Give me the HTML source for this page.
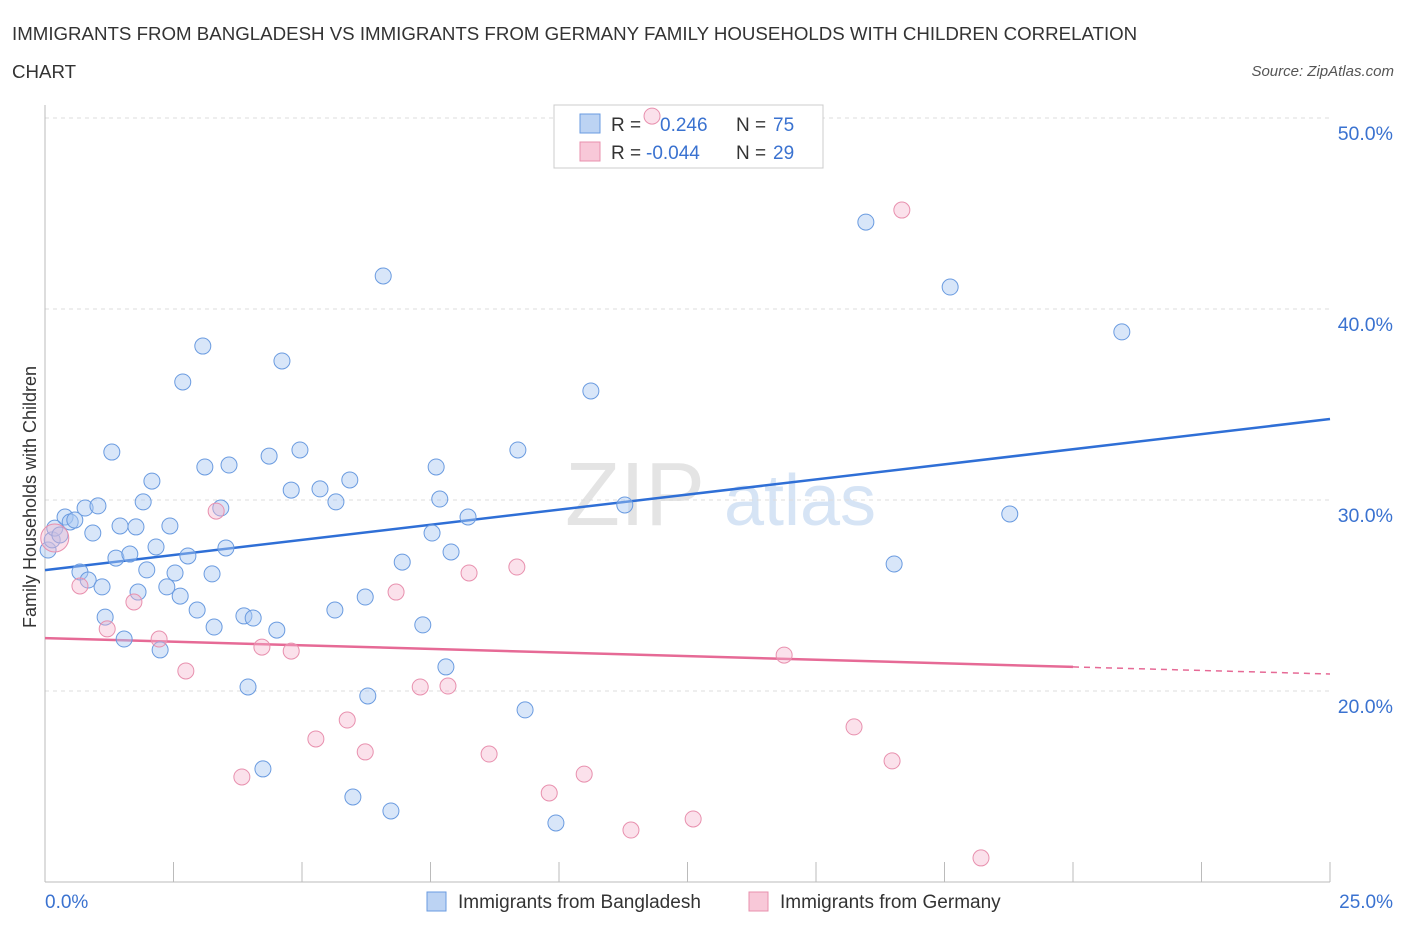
<!DOCTYPE html>
<html><head><meta charset="utf-8"><style>
body{margin:0;background:#fff;font-family:"Liberation Sans",sans-serif;}
svg text{font-family:"Liberation Sans",sans-serif;}
</style></head><body>
<svg id="chart" width="1406" height="930">
<text x="12" y="40" font-size="18.7" fill="#333">IMMIGRANTS FROM BANGLADESH VS IMMIGRANTS FROM GERMANY FAMILY HOUSEHOLDS WITH CHILDREN CORRELATION</text>
<text x="12" y="78" font-size="18.7" fill="#333">CHART</text>
<text x="1394" y="76" font-size="15" fill="#555" font-style="italic" text-anchor="end">Source: ZipAtlas.com</text>
<text x="36" y="497" font-size="18" fill="#333" text-anchor="middle" transform="rotate(-90 36 497)">Family Households with Children</text>
<text x="635" y="525" font-size="90" fill="#e4e4e4" text-anchor="middle" font-family="Liberation Serif">ZIP</text>
<text x="800" y="525" font-size="72" fill="#d6e4f5" text-anchor="middle">atlas</text>
<g id="grid"></g><g id="axes"></g>
<g>
<rect x="554" y="105" width="269" height="63" fill="#fff" stroke="#ccc"/>
<rect x="580" y="114" width="20" height="19" fill="#bcd3f3" stroke="#6a9be0"/>
<text x="611" y="131" font-size="19" fill="#333">R = </text><text x="660" y="131" font-size="19" fill="#3a72d0">0.246</text>
<text x="736" y="131" font-size="19" fill="#333">N = </text><text x="773" y="131" font-size="19" fill="#3a72d0">75</text>
<rect x="580" y="142" width="20" height="19" fill="#f8c8d8" stroke="#e890ae"/>
<text x="611" y="159" font-size="19" fill="#333">R = </text><text x="646" y="159" font-size="19" fill="#3a72d0">-0.044</text>
<text x="736" y="159" font-size="19" fill="#333">N = </text><text x="773" y="159" font-size="19" fill="#3a72d0">29</text>
</g>
<g id="lines"></g><g id="points"></g>
<g>
<rect x="427" y="892" width="19" height="19" fill="#bcd3f3" stroke="#6a9be0"/>
<text x="458" y="908" font-size="19" fill="#333">Immigrants from Bangladesh</text>
<rect x="749" y="892" width="19" height="19" fill="#f8c8d8" stroke="#e890ae"/>
<text x="780" y="908" font-size="19" fill="#333">Immigrants from Germany</text>
</g>
</svg>
<script>
const blueX=[0.06,0.14,0.19,0.29,0.39,0.49,0.58,0.78,1.03,0.93,0.68,0.84,1.11,1.17,1.30,1.38,1.46,1.54,1.65,1.77,1.81,1.91,1.98,2.08,2.16,2.24,2.37,2.43,2.53,2.63,2.68,2.78,2.96,3.07,3.11,3.25,3.29,3.42,3.52,3.58,3.87,3.95,4.05,4.24,4.36,4.51,4.61,4.79,4.96,5.35,5.66,5.64,5.93,5.99,6.23,6.28,6.58,6.73,6.95,7.35,7.53,7.61,7.68,7.80,7.90,8.23,9.20,9.34,9.94,10.62,11.28,15.97,16.52,17.61,18.77,20.95];
const blueY=[27.38,27.91,28.53,28.17,29.11,28.85,28.95,29.58,29.69,28.27,26.23,25.81,25.45,23.87,32.51,26.96,28.64,22.72,27.17,28.59,25.18,29.90,26.34,30.99,27.54,22.15,25.45,28.64,26.18,24.97,36.18,27.07,24.24,38.06,31.73,26.13,23.35,29.58,27.49,31.83,23.93,20.21,23.82,15.92,32.30,23.19,37.28,30.52,32.62,30.58,29.90,24.24,31.05,14.45,24.92,19.74,41.73,13.72,26.75,23.46,28.27,31.73,30.05,21.26,27.28,29.11,32.62,19.01,13.09,35.71,29.74,44.55,26.65,41.15,29.27,38.80];
const pinkX=[0.19,0.68,1.21,1.73,2.22,2.74,3.33,3.83,4.22,4.79,5.27,5.88,6.23,6.83,7.30,7.84,8.25,8.64,9.18,9.81,10.49,11.40,12.61,14.38,15.74,16.48,16.67,18.21,11.81];
const pinkY=[28.01,25.50,23.25,24.66,22.72,21.05,29.42,15.50,22.30,22.09,17.49,18.48,16.81,25.18,20.21,20.26,26.18,16.70,26.49,14.66,15.65,12.72,13.30,21.88,18.12,16.34,45.18,11.26,50.10];
const blueTrend=[26.33,34.24];
const pinkTrend=[22.77,21.26,20.89];
const yTicks=[20,30,40,50];
const yTickLabels=["20.0%","30.0%","40.0%","50.0%"];
const xTicks=[0,2.5,5,7.5,10,12.5,15,17.5,20,22.5,25];
const NS="http://www.w3.org/2000/svg";
const X=v=>45+v*51.4, Y=v=>691-(v-20)*19.1;
function mk(p,t,a){const e=document.createElementNS(NS,t);for(const k in a)e.setAttribute(k,a[k]);document.getElementById(p).appendChild(e);return e;}
yTicks.forEach((t,i)=>{
 const g=mk('grid','line',{x1:45,x2:1330,y1:Y(t),y2:Y(t),stroke:'#ddd','stroke-dasharray':'4,4'});
 
 
 const l=mk('axes','text',{x:1393,y:Y(t)+22,'font-size':19.5,fill:'#3a72d0','text-anchor':'end'});l.textContent=yTickLabels[i];
 
 
});
const ya=mk('axes','line',{x1:45,x2:45,y1:105,y2:882,stroke:'#bbb'});


const xa=mk('axes','line',{x1:45,x2:1330,y1:882,y2:882,stroke:'#bbb'});


xTicks.forEach(t=>{const e=mk('axes','line',{x1:X(t),x2:X(t),y1:862,y2:882,stroke:'#bbb'});
 
 });
const x0=mk('axes','text',{x:45,y:908,'font-size':19,fill:'#3a72d0'});x0.textContent='0.0%';


const x1=mk('axes','text',{x:1393,y:908,'font-size':19,fill:'#3a72d0','text-anchor':'end'});x1.textContent='25.0%';


blueX.forEach((v,i)=>{const c=mk('points','circle',{cx:X(v),cy:Y(blueY[i]),r:8,fill:'rgba(168,200,242,0.45)',stroke:'#6a9be0','stroke-width':1});
 
 });
pinkX.forEach((v,i)=>{const c=mk('points','circle',{cx:X(v),cy:Y(pinkY[i]),r:i===0?14:8,fill:'rgba(246,180,204,0.4)',stroke:'#e890ae','stroke-width':1});
 
 });
const bl=mk('lines','line',{x1:X(0),y1:Y(blueTrend[0]),x2:X(25),y2:Y(blueTrend[1]),stroke:'#2f6fd6','stroke-width':2.5});


const pl=mk('lines','line',{x1:X(0),y1:Y(pinkTrend[0]),x2:X(20),y2:Y(pinkTrend[1]),stroke:'#e66a96','stroke-width':2.5});


const pd=mk('lines','line',{x1:X(20),y1:Y(pinkTrend[1]),x2:X(25),y2:Y(pinkTrend[2]),stroke:'#e66a96','stroke-width':1.5,'stroke-dasharray':'6,5'});


</script>
</body></html>
